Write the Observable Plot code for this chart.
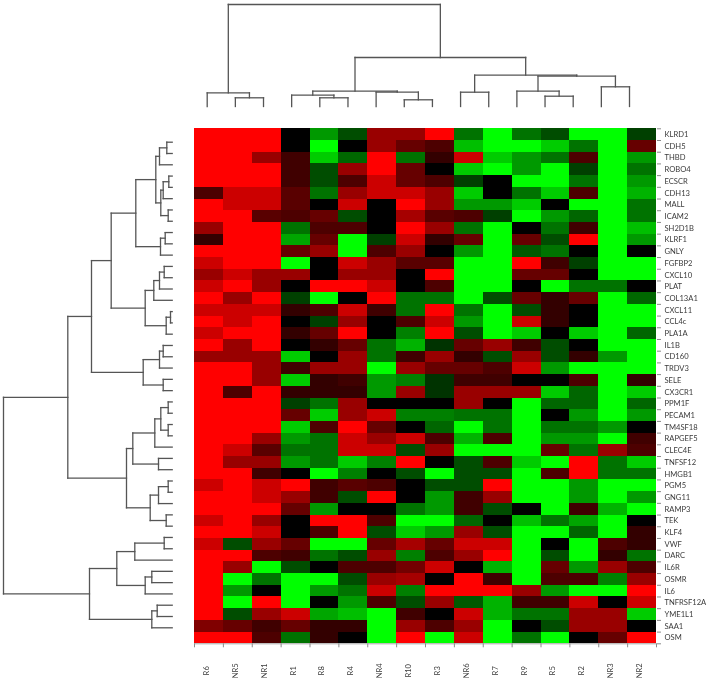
<!DOCTYPE html>
<html>
<head>
<meta charset="utf-8">
<script src="https://cdn.jsdelivr.net/npm/d3@7"></script>
<script src="https://cdn.jsdelivr.net/npm/@observablehq/plot@0.6"></script>
<style>
html,body{margin:0;padding:0;background:#fff;}
#chart{position:relative;width:708px;height:682px;overflow:hidden;}
#chart svg{position:absolute;left:0;top:0;background:transparent;filter:blur(.35px);}
</style>
</head>
<body>
<div id="chart"></div>
<script>
const samples = ["R6","NR5","NR1","R1","R8","R4","NR4","R10","R3","NR6","R7","R9","R5","R2","NR3","NR2"];
const genes = ["KLRD1","CDH5","THBD","ROBO4","ECSCR","CDH13","MALL","ICAM2","SH2D1B","KLRF1","GNLY","FGFBP2","CXCL10","PLAT","COL13A1","CXCL11","CCL4c","PLA1A","IL1B","CD160","TRDV3","SELE","CX3CR1","PPM1F","PECAM1","TM4SF18","RAPGEF5","CLEC4E","TNFSF12","HMGB1","PGM5","GNG11","RAMP3","TEK","KLF4","VWF","DARC","IL6R","OSMR","IL6","TNFRSF12A","YME1L1","SAA1","OSM"];
// relative expression: +10 = full red, 0 = black, -10 = full green
const expression = [
[10,10,10,0,-6,-3,6,6,10,-4.5,-10,-4.5,-3,-10,-10,-2.5],
[10,10,10,0,-10,0,6,4,3,-7.5,-10,-10,-8,-4.5,-10,4],
[10,10,6,2.5,-8,-4,10,-4.5,2,8,-8,-6,-4.5,3,-10,-6],
[10,10,10,2.5,-3,6,10,4,0,-8,-10,-6,-10,-2.5,-10,-4.5],
[10,10,10,2.5,-3,3,8,4,3,-2.5,0,-10,-10,-4.5,-10,-6],
[3,8,8,3.5,-4.5,6,8,8,6,-8,0,-4.5,-8,3,-10,-7],
[10,8,8,3.5,0,8,0,10,6,-6,-6,-8,0,-10,-10,-4.5],
[10,10,3.5,3,4,-3,0,6.5,3.5,3,-2.5,-10,-6,-4,-10,-4.5],
[6,10,10,-4.5,3,3,0,10,6,-4.5,-10,0,-4.5,2.5,-10,-7.5],
[2,10,10,-6.5,4,-10,-2.5,8,2,4,-10,4,-3,10,-10,-6],
[10,10,10,4,6,-10,3,6,0,-6,-10,-3.5,-4.5,0,-10,0],
[8,10,10,-10,0,8,6,3.5,3.5,-10,-10,10,2.5,-2.5,-10,-10],
[6,8,6,6,0,6,6,0,10,-10,-10,4,4,0,-10,-10],
[8,10,6,0,10,10,8,0,3,-10,-10,0,-10,-4.5,-4.5,0],
[10,6,10,-2.5,-10,0,10,-4.5,-4.5,-10,-3,4,2,4,-10,-4],
[8,8,8,2,3,8,2.5,-4.5,10,-4.5,-10,-3,2,0,-10,-10],
[10,8,10,0,-2.5,6,0,3,8,-6,-10,8,2,0,-10,-10],
[8,10,10,2,4,10,0,-5,10,-3,-10,-8,0,-8,-10,-4],
[10,6,10,0,2,4,-4.5,-7,-2,4,6,2.5,-3,0,-10,-10],
[6,6,6,-8,0,6,-4.5,2.5,6,2,-3,6,-3,2,-6,-10],
[10,10,6,2.5,6,6,-10,6,4,4,3,8,-6,-10,-10,-10],
[10,10,6,-8,2,2.5,-6,-5,-2,2.5,2.5,0,0,3,-10,2],
[10,3,10,2,2,2,-6,6,-2,6,6,6,-8,-4,-10,-8],
[10,10,10,-2.5,-4.5,6,0,0,0,6,0,-10,-4,-4,-10,-4],
[10,10,10,4,-8,6,8,-5,-5,-4.5,-4.5,-10,0,-6,-10,-6],
[10,10,10,-8,3,10,4,0,-4,-10,-4.5,-10,-4.5,-4.5,-6,0],
[10,10,6,-6,-4.5,8,6,8,3,-7,3,-10,-6,-6,-10,2.5],
[10,8,3.5,-4.5,-4.5,8,8,-3,6,-10,-10,-10,4,-4.5,6,3],
[10,6,6,-6,-4.5,-8,-5,10,0,-3,3,-8,-10,10,-4.5,-8],
[10,10,2.5,0,-10,-5,0,-3,-10,-3,-3,-10,3,10,-4.5,-4.5],
[8,10,8,10,2.5,3.5,3,0,-3,-3,10,-10,-10,-6,-10,-10],
[10,10,8,6,2.5,-3,10,0,-6,2.5,6,-10,-10,-6,-10,-6],
[10,10,10,4,-6,0,0,-4.5,-6,2.5,-3,0,-10,2.5,-7,-10],
[8,10,6,0,10,10,3,-10,-10,-4,0,-7.5,-4.5,-6.5,-10,0],
[10,10,8,0,3,10,-3,-8,-6,6,-3,-10,-10,-4,-10,2],
[8,-3,6,4,-10,-10,4,6.5,4,8,8,-10,0,-10,3,2],
[10,10,3,2.5,-4.5,-3,6,-5,3,6,10,-10,-3,-10,2,-4.5],
[10,6,-10,-3,0,3,3,4.5,8,0,-7,-10,4,-6,6,3],
[10,-10,-4.5,-10,-10,-3,6,6.5,0,10,2.5,-10,3,3,-5,6],
[10,-6,0,-10,-6,-4.5,8,-5,10,10,10,6,-6,-10,-10,10],
[10,-10,10,-10,0,-6,3,-3,6,-3.5,-7,2.5,2.5,8,0,8],
[10,-3,6,8,-6.5,-7.5,-10,2.5,0,8,-7,-4.5,-4.5,6,6,-8],
[5,4,2.5,4,2,2,-10,6,3,6,-10,0,-3,6,6,0],
[10,10,3,-4.5,2,0,-10,10,-10,8,-10,-4.5,-10,0,4,10]
];
// cluster trees: [height, left, right]; a bare number is a leaf index
const colTree = [102,
  [13.7, 0, [8.7, 1, 2]],
  [49,
    [15.3,
      [11.3, 3, [8.7, 4, 5]],
      [14.3, 6, [6.7, 7, 8]]],
    [31.3,
      [14.3, 9, 10],
      [30.3,
        [15.3, 11, [10.3, 12, 13]],
        [19.7, 14, 15]]]]];
const rowTree = [168.7,
  [104.4,
    [80.7,
      [61,
        [36.4,
          [16.4,
            [12.7, [5.4, 0, 1], 2],
            [11.4, [9, [3.4, 3, 4], 5], [4, 6, 7]]],
          [11.7, [7, 8, 9], 10]],
        [27,
          [18.4, [12.7, [8, 11, 12], 13], 14],
          [6, [1.7, 15, 16], 17]]],
      [29,
        [12.7, [9, 18, 19], 20],
        [9, 21, 22]]],
    [45.7,
      [39.4,
        [17.4, [11.4, [4, 23, 24], [4, 25, 26]], 27],
        [13.7, 28, 29]],
      [22,
        [13.7, [4, 30, 31], 32],
        [6, 33, 34]]]],
  [82.7,
    [55.4,
      [37.4, [8, 35, 36], 37],
      [27, [20.4, 38, 39], 40]],
    [20.4, [15, 41, 42], 43]]];

const cells = expression.flatMap((row, r) => row.map((v, c) => ({r, c, v})));

function treeLinks(tree) {
  const links = [];
  (function walk(n) {
    if (typeof n === "number") return {pos: n, h: 0};
    const a = walk(n[1]), b = walk(n[2]);
    links.push({p1: a.pos, h1: n[0], p2: b.pos, h2: n[0]});
    links.push({p1: a.pos, h1: a.h, p2: a.pos, h2: n[0]});
    links.push({p1: b.pos, h1: b.h, p2: b.pos, h2: n[0]});
    return {pos: (a.pos + b.pos) / 2, h: n[0]};
  })(tree);
  return links;
}

const axisColor = "#8a8a8a", textColor = "#3a3a3a", font = "Lato, 'Noto Sans', sans-serif";

const heat = Plot.plot({
  width: 708, height: 682,
  marginLeft: 194, marginRight: 52, marginTop: 128.3, marginBottom: 38.7,
  style: {background: "transparent", fontFamily: font},
  x: {domain: [0, samples.length], axis: null},
  y: {domain: [0, genes.length], reverse: true, axis: null},
  color: {type: "linear", domain: [-10, 0, 10], range: ["#00ff00", "#000000", "#ff0000"], clamp: true},
  marks: [
    Plot.rect(cells, {x1: "c", x2: d => d.c + 1, y1: "r", y2: d => d.r + 1, fill: "v", shapeRendering: "crispEdges"}),
    Plot.axisX({anchor: "bottom", ticks: d3.range(samples.length + 1), tickSize: 4, tickFormat: () => "", stroke: axisColor, label: null}),
    Plot.axisY({anchor: "right", ticks: d3.range(genes.length + 1), tickSize: 4, tickFormat: () => "", stroke: axisColor, label: null}),
    Plot.ruleY([genes.length], {stroke: axisColor, strokeWidth: 0.8}),
    Plot.text(samples, {x: (d, i) => i + 0.5, frameAnchor: "bottom", dy: 27, rotate: -90, text: d => d, fontSize: 7.6, fill: textColor, textAnchor: "middle"}),
    Plot.text(genes, {y: (d, i) => i + 0.5, frameAnchor: "right", dx: 8, text: d => d, fontSize: 7.6, fill: textColor, textAnchor: "start"})
  ]
});

const dendroStyle = {stroke: "#555", strokeWidth: 1.3, strokeLinecap: "square"};

const topDendro = Plot.plot({
  width: 708, height: 125, margin: 0,
  style: {background: "transparent"},
  x: {domain: [0, samples.length - 1], range: [206.7, 629], axis: null},
  y: {domain: [0, 102], range: [106, 4], axis: null},
  marks: [Plot.link(treeLinks(colTree), {x1: "p1", y1: "h1", x2: "p2", y2: "h2", ...dendroStyle})]
});

const leftDendro = Plot.plot({
  width: 195, height: 682, margin: 0,
  style: {background: "transparent"},
  x: {domain: [0, 168.7], range: [171.7, 3], axis: null},
  y: {domain: [0, genes.length - 1], range: [141.7, 627.3], axis: null},
  marks: [Plot.link(treeLinks(rowTree), {x1: "h1", y1: "p1", x2: "h2", y2: "p2", ...dendroStyle})]
});

const chart = document.getElementById("chart");
chart.append(heat, topDendro, leftDendro);
</script>
</body>
</html>
